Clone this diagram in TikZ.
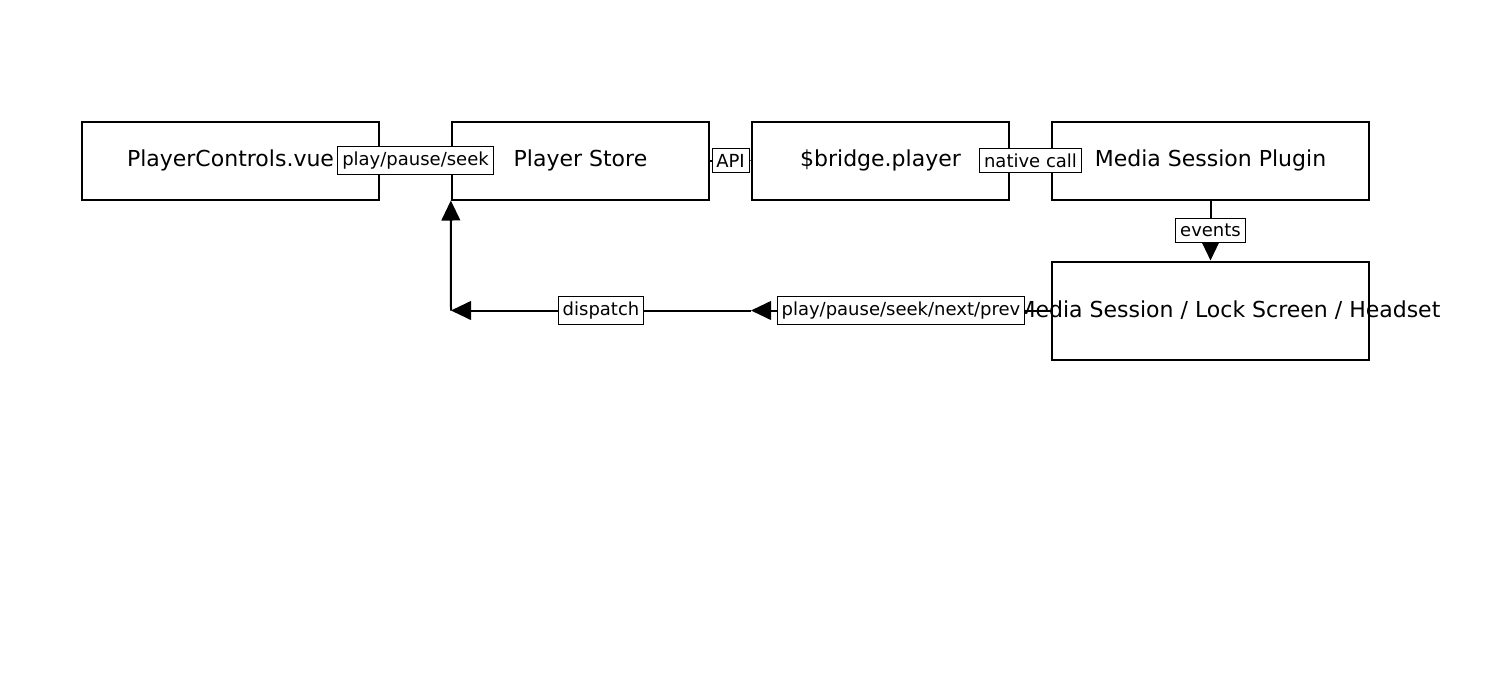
\documentclass[tikz,border=0pt]{standalone}
\usepackage{fontspec}
\setmainfont{DejaVu Sans}
\usetikzlibrary{arrows.meta}
\begin{document}
\begin{tikzpicture}[x=0.75pt,y=-0.75pt,
  box/.style={draw,line width=1.5pt,minimum height=58.5pt,inner sep=0pt,font=\fontsize{16.5}{19}\selectfont},
  lbl/.style={draw,line width=0.75pt,fill=white,inner xsep=3.2pt,inner ysep=4pt,font=\fontsize{13.5}{15}\selectfont},
  conn/.style={line width=1.5pt,-{Triangle[length=15pt,width=14pt]}}]
\useasboundingbox (0,0) rectangle (1500,700);
\node[box,minimum width=223pt] (A) at (230.5,160.5) {PlayerControls.vue};
\node[box,minimum width=193pt] (B) at (580.5,160.5) {Player Store};
\node[box,minimum width=193pt] (C) at (880.5,160.5) {\$bridge.player};
\node[box,minimum width=238pt] (D) at (1210.5,160.5) {Media Session Plugin};
\node[box,minimum width=238pt,minimum height=73.5pt] (E) at (1210.5,310.5) {\makebox[0pt][c]{\hspace*{27pt}Media Session / Lock Screen / Headset}};
\coordinate (p1) at (751,310.5);
\coordinate (p2) at (451,310.5);
\draw[conn] (A) -- node[lbl] {play/pause/seek} (B);
\draw[conn] (B) -- node[lbl] {API} (C);
\draw[conn] (C) -- node[lbl] {native call} (D);
\draw[conn] (D) -- node[lbl] {events} (E);
\draw[conn] (E.west) -- node[lbl] {play/pause/seek/next/prev} (p1);
\draw[conn] (p1) -- node[lbl] {dispatch} (p2);
\draw[conn] (p2) -- (B.south west);
\end{tikzpicture}
\end{document}
